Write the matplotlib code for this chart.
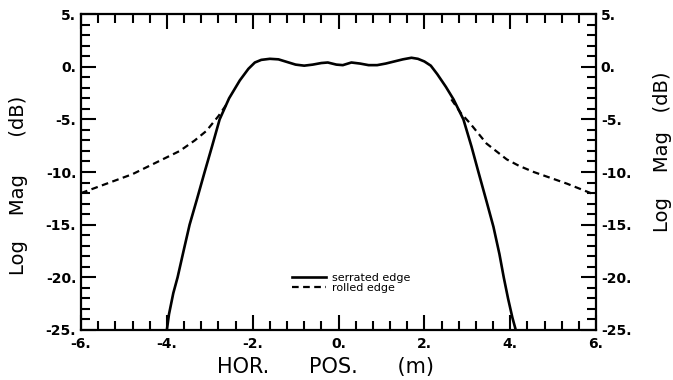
import matplotlib.pyplot as plt
import numpy as np
from matplotlib.ticker import MultipleLocator

# serrated edge (solid)
serr_x = [-4.0, -3.95, -3.85, -3.75, -3.6, -3.47, -3.3, -3.12, -2.95, -2.77,
          -2.55, -2.3, -2.1, -1.95, -1.8, -1.6, -1.4, -1.2, -1.0, -0.8,
          -0.6, -0.4, -0.25, -0.05, 0.1, 0.3, 0.5, 0.7, 0.9, 1.1,
          1.3, 1.5, 1.7, 1.85, 2.0, 2.15, 2.3, 2.5, 2.68, 2.91,
          3.1, 3.26, 3.45, 3.61, 3.75, 3.85, 3.95, 4.05, 4.13]
serr_y = [-25, -23.5, -21.5, -20, -17.3, -15, -12.6, -10, -7.6, -5,
          -3, -1.3, -0.2, 0.4, 0.65, 0.75, 0.7, 0.45, 0.2, 0.1,
          0.2, 0.35, 0.4, 0.2, 0.15, 0.4, 0.3, 0.15, 0.15, 0.3,
          0.5, 0.7, 0.85, 0.75, 0.5, 0.1, -0.7, -1.9, -3.1, -5,
          -7.6, -10, -12.8, -15.2, -17.8, -20, -22, -23.8, -25]

# rolled edge (dashed), only where it leaves the solid curve
roll_x = [-6.0, -5.4, -4.8, -4.2, -3.7, -3.35, -3.08, -2.8, -2.58, np.nan,
          2.63, 2.85, 3.07, 3.45, 3.92, 4.2, 4.55, 4.9, 5.32, 6.0]
roll_y = [-12.0, -11.1, -10.2, -9.0, -8.0, -7.0, -6.1, -4.7, -3.4, np.nan,
          -3.1, -4.4, -5.4, -7.3, -8.8, -9.4, -10.0, -10.5, -11.1, -12.2]

xticks = [-6, -4, -2, 0, 2, 4, 6]
xlabels = ["-6.", "-4.", "-2.", "0.", "2.", "4.", "6."]
yticks = [5, 0, -5, -10, -15, -20, -25]
ylabels = ["5.", "0.", "-5.", "-10.", "-15.", "-20.", "-25."]

fig = plt.figure(figsize=(6.73, 3.80), dpi=100)
ax = fig.add_axes([0.1204, 0.1316, 0.7652, 0.8314])

ax.plot(serr_x, serr_y, color='black', lw=1.9, label='serrated edge')
ax.plot(roll_x, roll_y, color='black', lw=1.6, linestyle=(0, (3, 2)), label='rolled edge')

ax.set_xlim(-6, 6)
ax.set_ylim(-25, 5)

ax.set_xticks(xticks)
ax.set_xticklabels(xlabels, fontsize=10, fontweight='bold')
ax.set_yticks(yticks)
ax.set_yticklabels(ylabels, fontsize=10, fontweight='bold')
ax.xaxis.set_minor_locator(MultipleLocator(0.4))
ax.yaxis.set_minor_locator(MultipleLocator(1))
ax.tick_params(which='both', direction='in', top=True, right=True,
               labelright=True, width=1.5)
ax.tick_params(which='major', length=11)
ax.tick_params(which='minor', length=6.5)
ax.tick_params(axis='x', pad=5)
ax.tick_params(axis='y', pad=3.5)
for s in ax.spines.values():
    s.set_linewidth(1.6)

# axis titles, spaced out like the plotter lettering
fig.text(0.484, 0.034, "HOR.      POS.      (m)", fontsize=15,
         ha='center', va='center')
fig.text(0.0275, 0.512, "Log    Mag      (dB)", fontsize=14, rotation=90,
         ha='center', va='center')
fig.text(0.985, 0.601, "Log    Mag   (dB)", fontsize=14, rotation=90,
         ha='center', va='center')

ax.legend(loc='lower left', bbox_to_anchor=(0.391, 0.085), frameon=False,
          handlelength=3.0, handletextpad=0.6, labelspacing=0.05,
          prop={'family': 'DejaVu Sans', 'size': 8})

fig.savefig('out.png', dpi=100)
